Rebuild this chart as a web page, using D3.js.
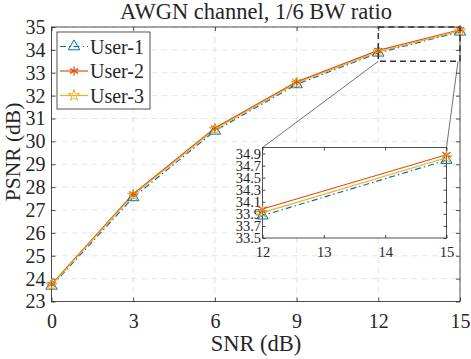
<!DOCTYPE html>
<html>
<head>
<meta charset="utf-8">
<script src="https://cdn.jsdelivr.net/npm/d3@7"></script>
<style>
  body { margin: 0; background: #fff; }
  text { font-family: "Liberation Serif", "Times New Roman", serif; fill: #262626; }
</style>
</head>
<body>
<svg width="471" height="359"></svg>
<script>
// data
const snr = [0, 3, 6, 9, 12, 15];
const user1 = [23.68, 27.55, 30.46, 32.49, 33.87, 34.79];
const user2 = [23.75, 27.70, 30.58, 32.60, 33.98, 34.88];
const user3 = [23.72, 27.65, 30.53, 32.55, 33.92, 34.83];
const seriesNames = ["User-1", "User-2", "User-3"];
const xTicks = [0, 3, 6, 9, 12, 15];
const yTicks = [23, 24, 25, 26, 27, 28, 29, 30, 31, 32, 33, 34, 35];
const insetXTicks = [12, 13, 14, 15];
const insetYTicks = [33.5, 33.7, 33.9, 34.1, 34.3, 34.5, 34.7, 34.9];

const colors = ["#0072BD", "#D95319", "#EDB120"];
const dashes = ["6,3,1.5,3", null, null];
const series = [user1, user2, user3].map((v, i) => ({
  name: seriesNames[i], color: colors[i], dash: dashes[i], marker: i,
  values: snr.map((s, j) => ({x: s, y: v[j]}))
}));

const svg = d3.select("svg");
const axisColor = "#262626";

// main axes
const mLeft = 51.5, mRight = 460, mTop = 27, mBottom = 301.5;
const x = d3.scaleLinear().domain([0, 15]).range([mLeft, mRight]);
const y = d3.scaleLinear().domain([23, 35]).range([mBottom, mTop]);

// grid
svg.append("g").selectAll("line").data(xTicks).join("line")
  .attr("x1", d => x(d)).attr("x2", d => x(d)).attr("y1", mTop).attr("y2", mBottom)
  .attr("stroke", "#e0e0e0").attr("stroke-dasharray", "6,4").attr("stroke-width", 0.8);
svg.append("g").selectAll("line").data(yTicks).join("line")
  .attr("y1", d => y(d)).attr("y2", d => y(d)).attr("x1", mLeft).attr("x2", mRight)
  .attr("stroke", "#e0e0e0").attr("stroke-dasharray", "6,4").attr("stroke-width", 0.8);

// box
svg.append("rect").attr("x", mLeft).attr("y", mTop)
  .attr("width", mRight - mLeft).attr("height", mBottom - mTop)
  .attr("fill", "none").attr("stroke", axisColor).attr("stroke-width", 0.8);

// axes (ticks inside)
svg.append("g").attr("transform", `translate(0,${mBottom})`)
  .call(d3.axisBottom(x).tickValues(xTicks).tickSize(-4).tickPadding(12).tickFormat(d3.format("d")));
svg.append("g").attr("transform", `translate(${mLeft},0)`)
  .call(d3.axisLeft(y).tickValues(yTicks).tickSize(-4).tickPadding(6).tickFormat(d3.format("d")));
svg.append("g").attr("transform", `translate(0,${mTop})`)
  .call(d3.axisTop(x).tickValues(xTicks).tickSize(-4).tickFormat(""));
svg.append("g").attr("transform", `translate(${mRight},0)`)
  .call(d3.axisRight(y).tickValues(yTicks).tickSize(-4).tickFormat(""));
svg.selectAll(".domain").remove();
svg.selectAll(".tick line").attr("stroke", axisColor).attr("stroke-width", 0.8);
svg.selectAll(".tick text").style("font-size", "20px")
  .style("font-family", "Liberation Serif, serif").attr("fill", axisColor);

// titles
svg.append("text").attr("x", 256).attr("y", 18.5).attr("text-anchor", "middle")
  .style("font-size", "22.5px").text("AWGN channel, 1/6 BW ratio");
svg.append("text").attr("x", 256).attr("y", 351).attr("text-anchor", "middle")
  .style("font-size", "22.5px").text("SNR (dB)");
svg.append("text").attr("transform", "translate(20,152) rotate(-90)")
  .attr("text-anchor", "middle").style("font-size", "21.5px").text("PSNR (dB)");

// markers
function drawMarker(g, type, color, size) {
  if (type === 0) {
    g.append("path").attr("d", d3.symbol(d3.symbolTriangle, size * 7)())
      .attr("fill", "none").attr("stroke", color).attr("stroke-width", 1);
  } else if (type === 1) {
    g.append("path").attr("d", d3.symbol(d3.symbolAsterisk, size * 8)())
      .attr("fill", "none").attr("stroke", color).attr("stroke-width", 1.2);
  } else {
    g.append("path").attr("d", d3.symbol(d3.symbolStar, size * 5)())
      .attr("fill", "none").attr("stroke", color).attr("stroke-width", 1);
  }
}

function drawSeries(g, sx, sy, size) {
  const line = d3.line().x(d => sx(d.x)).y(d => sy(d.y));
  series.forEach(s => {
    g.append("path").datum(s.values).attr("d", line)
      .attr("fill", "none").attr("stroke", s.color).attr("stroke-width", 1.2)
      .attr("stroke-dasharray", s.dash);
  });
  const [x0, x1] = sx.domain();
  series.forEach(s => {
    s.values.filter(d => d.x >= x0 && d.x <= x1).forEach(d => {
      const m = g.append("g").attr("transform", `translate(${sx(d.x)},${sy(d.y)})`);
      drawMarker(m, s.marker, s.color, size);
    });
  });
}

drawSeries(svg.append("g"), x, y, 8);

// zoom rectangle on main axes
const zx0 = x(12), zx1 = x(15), zy0 = y(35), zy1 = y(33.5);
svg.append("rect").attr("x", zx0).attr("y", zy0).attr("width", zx1 - zx0).attr("height", zy1 - zy0)
  .attr("fill", "none").attr("stroke", "#333").attr("stroke-width", 1.5).attr("stroke-dasharray", "6,4");

// inset axes
const il = 262.5, ir = 446.5, it = 147.5, ib = 238;
const ix = d3.scaleLinear().domain([12, 15]).range([il, ir]);
const iy = d3.scaleLinear().domain([33.5, 35]).range([ib, it]);

// connector lines
svg.append("line").attr("x1", zx0).attr("y1", zy1).attr("x2", il).attr("y2", it)
  .attr("stroke", "#333").attr("stroke-width", 0.7);
svg.append("line").attr("x1", zx1 - 2).attr("y1", zy1).attr("x2", ir).attr("y2", it)
  .attr("stroke", "#333").attr("stroke-width", 0.7);

const inset = svg.append("g");
svg.append("defs").append("clipPath").attr("id", "insetClip")
  .append("rect").attr("x", il - 6).attr("y", it - 6).attr("width", ir - il + 12).attr("height", ib - it + 12);
inset.append("rect").attr("x", il).attr("y", it).attr("width", ir - il).attr("height", ib - it)
  .attr("fill", "#fff");
inset.append("g").attr("transform", `translate(0,${ib})`)
  .call(d3.axisBottom(ix).tickValues(insetXTicks).tickSize(-3).tickPadding(8.5).tickFormat(d3.format("d")));
inset.append("g").attr("transform", `translate(${il},0)`)
  .call(d3.axisLeft(iy).tickValues(insetYTicks).tickSize(-3).tickPadding(1.5).tickFormat(d3.format(".1f")));
inset.append("g").attr("transform", `translate(0,${it})`)
  .call(d3.axisTop(ix).tickValues(insetXTicks).tickSize(-3).tickFormat(""));
inset.append("g").attr("transform", `translate(${ir},0)`)
  .call(d3.axisRight(iy).tickValues(insetYTicks).tickSize(-3).tickFormat(""));
inset.selectAll(".domain").remove();
inset.selectAll(".tick line").attr("stroke", axisColor).attr("stroke-width", 0.8);
inset.selectAll(".tick text").style("font-size", "14.5px")
  .style("font-family", "Liberation Serif, serif").attr("fill", axisColor);
inset.append("rect").attr("x", il).attr("y", it).attr("width", ir - il).attr("height", ib - it)
  .attr("fill", "none").attr("stroke", axisColor).attr("stroke-width", 0.8);
drawSeries(inset.append("g").attr("clip-path", "url(#insetClip)"), ix, iy, 8);

// legend
const lg = svg.append("g").attr("transform", "translate(57,32)");
lg.append("rect").attr("width", 93).attr("height", 77)
  .attr("fill", "#fff").attr("stroke", axisColor).attr("stroke-width", 0.8);
series.forEach((s, i) => {
  const yy = 14.5 + i * 24.5;
  lg.append("line").attr("x1", 3).attr("x2", 31).attr("y1", yy).attr("y2", yy)
    .attr("stroke", s.color).attr("stroke-width", 1.2).attr("stroke-dasharray", s.dash);
  drawMarker(lg.append("g").attr("transform", `translate(17,${yy})`), s.marker, s.color, 8);
  lg.append("text").attr("x", 33).attr("y", yy + 7).style("font-size", "20px").text(s.name);
});
</script>
</body>
</html>
